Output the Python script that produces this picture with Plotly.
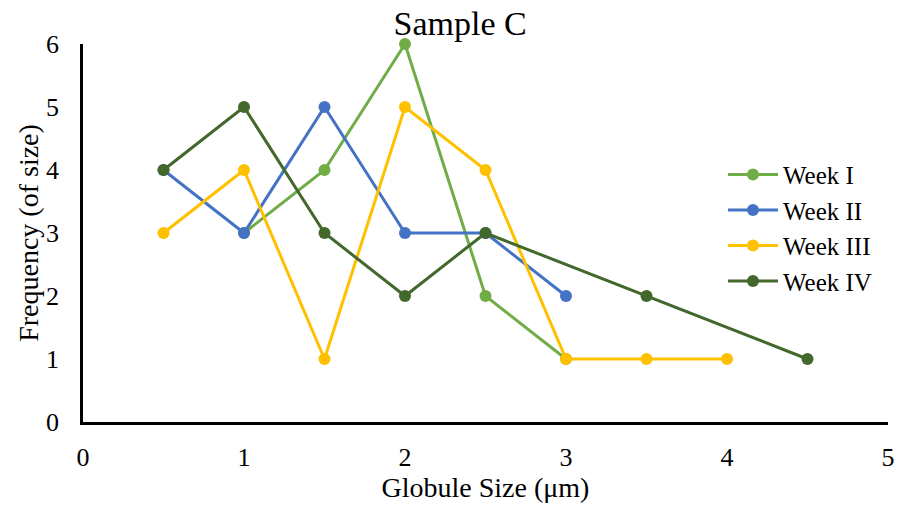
import plotly.graph_objects as go

week1_x = [1, 1.5, 2, 2.5, 3]
week1_y = [3, 4, 6, 2, 1]
week2_x = [0.5, 1, 1.5, 2, 2.5, 3]
week2_y = [4, 3, 5, 3, 3, 2]
week3_x = [0.5, 1, 1.5, 2, 2.5, 3, 3.5, 4]
week3_y = [3, 4, 1, 5, 4, 1, 1, 1]
week4_x = [0.5, 1, 1.5, 2, 2.5, 3.5, 4.5]
week4_y = [4, 5, 3, 2, 3, 2, 1]

series = [
    ("Week I", week1_x, week1_y, "#70AD47"),
    ("Week II", week2_x, week2_y, "#4472C4"),
    ("Week III", week3_x, week3_y, "#FFC000"),
    ("Week IV", week4_x, week4_y, "#43682B"),
]

fig = go.Figure()
for name, xs, ys, c in series:
    fig.add_trace(go.Scatter(x=xs, y=ys, name=name, mode="lines+markers",
                             line=dict(color=c, width=3),
                             marker=dict(color=c, size=12),
                             cliponaxis=False))

font = "'Liberation Serif', 'Times New Roman', serif"
fig.update_layout(
    width=904, height=510,
    margin=dict(l=83, r=9, t=44, b=88),
    paper_bgcolor="white", plot_bgcolor="white",
    font=dict(family=font, color="black", size=26),
    title=dict(text="Sample C", x=0.509, xanchor="center", y=0.955, yanchor="middle",
               font=dict(size=34, family=font, color="black")),
    xaxis=dict(range=[0, 5], dtick=1, showgrid=False, zeroline=False,
               showline=True, linecolor="black", linewidth=2.5, ticks="",
               ticklabelstandoff=10, tickfont=dict(size=26, family=font),
               title=dict(text="Globule Size (μm)", font=dict(size=28, family=font), standoff=0)),
    yaxis=dict(range=[0, 6], dtick=1, showgrid=False, zeroline=False,
               showline=True, linecolor="black", linewidth=2.5, ticks="",
               ticklabelstandoff=16, tickfont=dict(size=26, family=font),
               title=dict(text="Frequency (of size)", font=dict(size=28, family=font), standoff=0)),
    legend=dict(x=0.795, y=0.715, xanchor="left", yanchor="top",
                font=dict(size=25, family=font), bgcolor="rgba(0,0,0,0)",
                tracegroupgap=0, itemwidth=50),
    showlegend=True,
)
fig.write_html("out.html")
